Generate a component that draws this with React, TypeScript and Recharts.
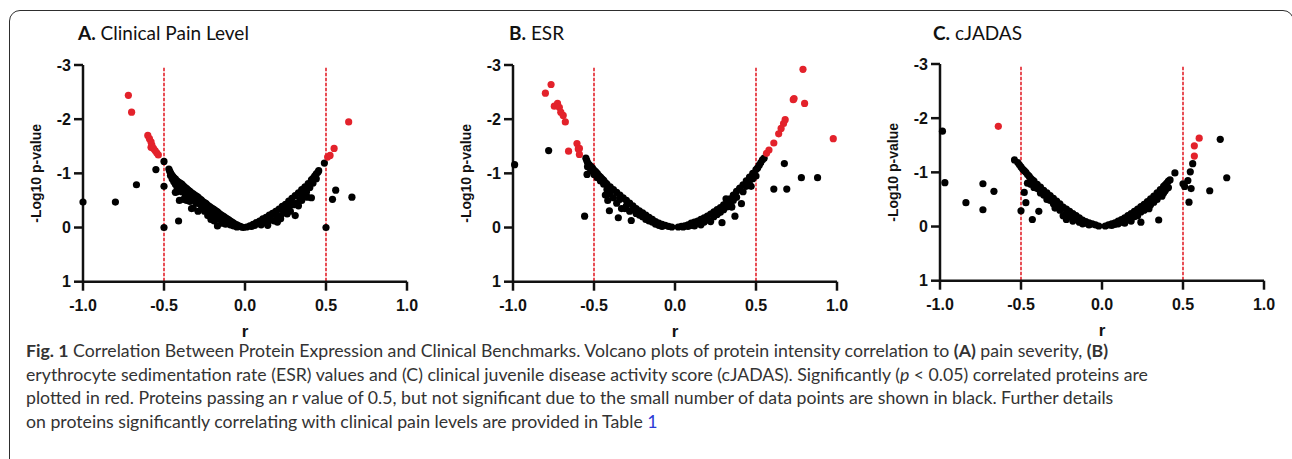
import React from 'react';
import { ScatterChart, Scatter, XAxis, YAxis, ReferenceLine, Label } from 'recharts';

type Pair = [number, number];

// ---- axis ticks ----
const xTicks = [-1, -0.5, 0, 0.5, 1];
const yTicks = [-3, -2, -1, 0, 1];
const cutoffs = [-0.5, 0.5];

// ---- A. Clinical Pain Level ----
const painRed: Pair[] = [
  [-0.72, -2.44], [-0.70, -2.13], [-0.60, -1.70], [-0.59, -1.64], [-0.58, -1.58], [-0.575, -1.52],
  [-0.58, -1.48], [-0.565, -1.46], [-0.555, -1.42], [-0.545, -1.38], [-0.535, -1.34],
  [0.51, -1.30], [0.525, -1.33], [0.55, -1.46], [0.64, -1.95],
];
const painBlack: Pair[] = [
  [-1.0, -0.47], [-0.80, -0.47], [-0.67, -0.79], [-0.55, -1.07], [-0.50, -1.22], [-0.50, -0.76], [-0.50, 0],
  [-0.41, -0.12], [-0.42, -0.66], [-0.405, -0.50], [-0.33, -0.35],
  [0.49, -1.19], [0.50, 0], [0.54, -0.52], [0.56, -0.69], [0.66, -0.56], [0.31, -0.22], [0.385, -0.56], [0.41, -0.55], [0.21, -0.17],
  // band, left upper edge
  [-0.47, -1.08], [-0.465, -1.04], [-0.46, -1.01], [-0.455, -0.98], [-0.45, -0.96], [-0.445, -0.94], [-0.44, -0.92],
  [-0.43, -0.90], [-0.42, -0.86], [-0.41, -0.84], [-0.40, -0.82], [-0.39, -0.80], [-0.38, -0.77], [-0.37, -0.74],
  [-0.36, -0.72], [-0.35, -0.69], [-0.34, -0.67], [-0.33, -0.64], [-0.32, -0.62], [-0.31, -0.60], [-0.30, -0.58],
  [-0.29, -0.56], [-0.28, -0.53], [-0.27, -0.51], [-0.26, -0.48], [-0.25, -0.46], [-0.24, -0.44], [-0.23, -0.41],
  [-0.22, -0.39], [-0.21, -0.37], [-0.20, -0.35], [-0.19, -0.33], [-0.18, -0.31], [-0.17, -0.29], [-0.16, -0.26],
  [-0.15, -0.24], [-0.14, -0.22], [-0.13, -0.20], [-0.12, -0.18], [-0.11, -0.16], [-0.10, -0.14], [-0.09, -0.12],
  [-0.08, -0.10], [-0.07, -0.08], [-0.06, -0.06], [-0.05, -0.05], [-0.04, -0.03], [-0.03, -0.02], [-0.02, -0.01], [-0.01, 0],
  // band, left lower scatter
  [-0.46, -0.96], [-0.45, -0.90], [-0.44, -0.85], [-0.43, -0.80], [-0.42, -0.75], [-0.43, -0.65], [-0.41, -0.70],
  [-0.39, -0.66], [-0.38, -0.52], [-0.37, -0.62], [-0.36, -0.50], [-0.35, -0.58], [-0.34, -0.48], [-0.33, -0.55],
  [-0.32, -0.36], [-0.31, -0.50], [-0.30, -0.45], [-0.29, -0.30], [-0.28, -0.44], [-0.27, -0.40], [-0.26, -0.36],
  [-0.25, -0.30], [-0.24, -0.34], [-0.23, -0.22], [-0.22, -0.30], [-0.21, -0.15], [-0.20, -0.25], [-0.19, -0.12],
  [-0.18, -0.22], [-0.17, -0.03], [-0.16, -0.15], [-0.15, -0.18], [-0.14, -0.08], [-0.13, -0.12], [-0.12, -0.06],
  [-0.10, -0.08], [-0.09, -0.05], [-0.07, -0.03], [-0.05, -0.01],
  // band, right upper edge
  [0.01, -0.01], [0.03, -0.03], [0.05, -0.06], [0.07, -0.09], [0.09, -0.12], [0.11, -0.16], [0.13, -0.19],
  [0.15, -0.23], [0.17, -0.26], [0.19, -0.30], [0.21, -0.34], [0.23, -0.39], [0.25, -0.43], [0.27, -0.49],
  [0.29, -0.54], [0.31, -0.59], [0.33, -0.64], [0.35, -0.70], [0.37, -0.75], [0.39, -0.81], [0.41, -0.88],
  [0.42, -0.91], [0.43, -0.95], [0.44, -0.99], [0.45, -1.02], [0.455, -1.05],
  // band, right lower scatter
  [0.04, -0.02], [0.06, -0.04], [0.08, -0.07], [0.10, -0.05], [0.12, -0.10], [0.14, -0.08], [0.16, -0.15],
  [0.18, -0.12], [0.20, -0.20], [0.22, -0.16], [0.24, -0.30], [0.26, -0.25], [0.27, -0.36], [0.28, -0.30],
  [0.30, -0.42], [0.32, -0.45], [0.34, -0.52], [0.36, -0.60], [0.38, -0.66], [0.40, -0.74], [0.42, -0.82],
  [0.44, -0.90], [0.25, -0.35], [0.29, -0.44], [0.33, -0.40], [0.35, -0.50], [0.14, -0.04], [0.20, -0.10], [0.22, -0.22],
];

// ---- B. ESR ----
const esrRed: Pair[] = [
  [-0.80, -2.48], [-0.765, -2.64], [-0.745, -2.24], [-0.725, -2.29], [-0.714, -2.22], [-0.705, -2.13],
  [-0.69, -2.07], [-0.677, -1.95], [-0.657, -1.41], [-0.605, -1.55], [-0.59, -1.46], [-0.597, -1.45], [-0.59, -1.35],
  [0.79, -2.92], [0.73, -2.36], [0.735, -2.38], [0.80, -2.29], [0.68, -1.99], [0.67, -1.92], [0.655, -1.83],
  [0.64, -1.73], [0.61, -1.56], [0.58, -1.43], [0.565, -1.37], [0.977, -1.64],
];
const esrBlack: Pair[] = [
  [-0.99, -1.16], [-0.78, -1.42], [-0.543, -0.98], [-0.558, -0.21],
  [0.675, -1.18], [0.78, -0.92], [0.88, -0.92], [0.61, -0.71], [0.69, -0.71],
  [0.41, -0.44], [0.37, -0.21], [0.29, -0.09], [0.35, -0.38],
  // left upper edge
  [-0.55, -1.28], [-0.545, -1.24], [-0.54, -1.20], [-0.53, -1.16], [-0.52, -1.13], [-0.51, -1.10], [-0.50, -1.06],
  [-0.49, -1.03], [-0.48, -1.00], [-0.47, -0.96], [-0.46, -0.93], [-0.45, -0.90], [-0.44, -0.87], [-0.43, -0.83],
  [-0.42, -0.80], [-0.40, -0.75], [-0.38, -0.70], [-0.36, -0.65], [-0.34, -0.60], [-0.32, -0.55], [-0.30, -0.50],
  [-0.28, -0.45], [-0.26, -0.40], [-0.24, -0.35], [-0.22, -0.31], [-0.20, -0.27], [-0.18, -0.23], [-0.16, -0.19],
  [-0.14, -0.15], [-0.12, -0.11], [-0.10, -0.08], [-0.08, -0.06], [-0.06, -0.04], [-0.04, -0.02], [-0.02, -0.01],
  // left lower scatter
  [-0.54, -1.12], [-0.52, -1.05], [-0.50, -0.98], [-0.48, -0.92], [-0.46, -0.86], [-0.44, -0.80], [-0.43, -0.60],
  [-0.42, -0.70], [-0.415, -0.50], [-0.40, -0.62], [-0.405, -0.31], [-0.38, -0.55], [-0.36, -0.45], [-0.35, -0.18],
  [-0.34, -0.52], [-0.33, -0.35], [-0.31, -0.35], [-0.30, -0.40], [-0.28, -0.30], [-0.27, -0.13], [-0.26, -0.33],
  [-0.24, -0.26], [-0.22, -0.23], [-0.20, -0.20], [-0.18, -0.15], [-0.16, -0.12], [-0.14, -0.10], [-0.12, -0.06],
  [-0.10, -0.04], [-0.08, -0.02],
  // right upper edge
  [0.02, -0.01], [0.04, -0.02], [0.06, -0.03], [0.08, -0.05], [0.10, -0.08], [0.12, -0.10], [0.14, -0.12],
  [0.16, -0.15], [0.18, -0.18], [0.20, -0.21], [0.22, -0.25], [0.24, -0.29], [0.26, -0.33], [0.28, -0.37],
  [0.30, -0.42], [0.32, -0.47], [0.34, -0.53], [0.36, -0.60], [0.38, -0.67], [0.40, -0.73], [0.42, -0.79],
  [0.44, -0.86], [0.46, -0.93], [0.48, -1.00], [0.50, -1.07], [0.51, -1.10], [0.52, -1.15], [0.53, -1.20],
  [0.54, -1.25], [0.55, -1.28],
  // right lower scatter
  [0.05, -0.01], [0.08, -0.02], [0.10, -0.04], [0.12, -0.03], [0.14, -0.08], [0.16, -0.05], [0.18, -0.10],
  [0.20, -0.14], [0.22, -0.11], [0.24, -0.20], [0.26, -0.24], [0.28, -0.28], [0.30, -0.33], [0.315, -0.53],
  [0.32, -0.38], [0.34, -0.44], [0.35, -0.38], [0.36, -0.50], [0.38, -0.56], [0.40, -0.72], [0.42, -0.66],
  [0.44, -0.76], [0.46, -0.80], [0.47, -0.76], [0.48, -0.90], [0.50, -0.95],
];

// ---- C. cJADAS ----
const jadasRed: Pair[] = [
  [-0.64, -1.85], [0.57, -1.49], [0.57, -1.30], [0.60, -1.63],
];
const jadasBlack: Pair[] = [
  [-0.985, -1.76], [-0.97, -0.81], [-0.84, -0.44], [-0.735, -0.79], [-0.735, -0.31], [-0.667, -0.65],
  [-0.54, -1.23], [-0.50, -0.29], [-0.48, -0.63], [-0.47, -0.44], [-0.43, -0.13], [-0.39, -0.28],
  [0.73, -1.61], [0.77, -0.90], [0.665, -0.66], [0.45, -0.99], [0.50, -0.79], [0.51, -0.74], [0.53, -0.85],
  [0.545, -1.01], [0.56, -1.16], [0.55, -0.70], [0.537, -0.45], [0.35, -0.12], [0.24, -0.08],
  // left upper edge
  [-0.52, -1.18], [-0.51, -1.14], [-0.50, -1.10], [-0.49, -1.06], [-0.48, -1.03], [-0.47, -1.00], [-0.46, -0.96],
  [-0.45, -0.93], [-0.44, -0.89], [-0.43, -0.86], [-0.42, -0.84], [-0.40, -0.78], [-0.38, -0.73], [-0.36, -0.67],
  [-0.34, -0.62], [-0.32, -0.57], [-0.30, -0.52], [-0.28, -0.47], [-0.26, -0.42], [-0.24, -0.36], [-0.22, -0.32],
  [-0.20, -0.28], [-0.18, -0.24], [-0.16, -0.20], [-0.14, -0.16], [-0.12, -0.12], [-0.10, -0.09], [-0.08, -0.07],
  [-0.06, -0.05], [-0.04, -0.03], [-0.02, -0.01],
  // left lower scatter
  [-0.46, -0.80], [-0.44, -0.78], [-0.42, -0.72], [-0.40, -0.70], [-0.38, -0.62], [-0.36, -0.58], [-0.35, -0.60],
  [-0.34, -0.50], [-0.32, -0.48], [-0.30, -0.42], [-0.29, -0.34], [-0.28, -0.38], [-0.26, -0.30], [-0.24, -0.20],
  [-0.22, -0.13], [-0.22, -0.25], [-0.20, -0.18], [-0.18, -0.10], [-0.16, -0.14], [-0.14, -0.08], [-0.12, -0.05],
  [-0.10, -0.06], [-0.08, -0.03],
  // right upper edge
  [0.02, -0.01], [0.04, -0.03], [0.06, -0.05], [0.08, -0.07], [0.10, -0.10], [0.12, -0.13], [0.14, -0.16],
  [0.16, -0.20], [0.18, -0.24], [0.20, -0.28], [0.22, -0.32], [0.24, -0.37], [0.26, -0.41], [0.28, -0.46],
  [0.30, -0.51], [0.32, -0.56], [0.34, -0.62], [0.36, -0.68], [0.38, -0.74], [0.39, -0.77], [0.40, -0.80],
  [0.41, -0.84], [0.42, -0.86],
  // right lower scatter
  [0.06, -0.02], [0.08, -0.04], [0.10, -0.05], [0.12, -0.08], [0.14, -0.06], [0.16, -0.12], [0.18, -0.10],
  [0.20, -0.18], [0.20, -0.23], [0.22, -0.20], [0.24, -0.27], [0.26, -0.30], [0.28, -0.35], [0.29, -0.33],
  [0.30, -0.40], [0.32, -0.45], [0.34, -0.50], [0.36, -0.59], [0.37, -0.56], [0.38, -0.62], [0.39, -0.66],
  [0.40, -0.70], [0.41, -0.72],
];

const toPts = (arr: Pair[]) => arr.map(([r, v]) => ({ r, v }));

const RED = '#e3222b';
const INK = '#111';

const makeDot = (color: string) => (props: any) => (
  <circle cx={props.cx} cy={props.cy} r={3.6} fill={color} />
);

const tickFont = { fontFamily: 'Liberation Sans, Arial, sans-serif', fontWeight: 700, fontSize: 16, fill: INK };

function Panel({ left, top, black, red }: { left: number; top: number; black: Pair[]; red: Pair[] }) {
  return (
    <div style={{ position: 'absolute', left, top }}>
      <ScatterChart width={430} height={345} margin={{ top: 65, right: 23, bottom: 8, left: 0 }}>
        <XAxis
          type="number"
          dataKey="r"
          domain={[-1, 1]}
          ticks={xTicks}
          tickFormatter={(v: number) => v.toFixed(1)}
          height={55.3}
          axisLine={{ stroke: INK, strokeWidth: 2.5 }}
          tickLine={{ stroke: INK, strokeWidth: 2.5 }}
          tickSize={9}
          tickMargin={9}
          tick={tickFont}
          interval={0}
        >
          <Label value="r" position="insideBottom" offset={0}
            style={{ fontFamily: 'Liberation Sans, Arial, sans-serif', fontWeight: 700, fontSize: 17, fill: INK }} />
        </XAxis>
        <YAxis
          type="number"
          dataKey="v"
          domain={[-3, 1]}
          ticks={yTicks}
          reversed
          width={83}
          axisLine={{ stroke: INK, strokeWidth: 2.5 }}
          tickLine={{ stroke: INK, strokeWidth: 2.5 }}
          tickSize={9}
          tickMargin={3}
          tick={tickFont}
          interval={0}
        >
          <Label value="-Log10 p-value" angle={-90} position="insideLeft" offset={36}
            style={{ textAnchor: 'middle', fontFamily: 'Liberation Sans, Arial, sans-serif', fontWeight: 700, fontSize: 14, fill: INK }} />
        </YAxis>
        {cutoffs.map((c) => (
          <ReferenceLine key={c} segment={[{ x: c, y: -2.95 }, { x: c, y: 1 }]}
            stroke={RED} strokeWidth={1.6} strokeDasharray="3.5 1.5" />
        ))}
        <Scatter data={toPts(black)} fill="#000" shape={makeDot('#000')} isAnimationActive={false} />
        <Scatter data={toPts(red)} fill={RED} shape={makeDot(RED)} isAnimationActive={false} />
      </ScatterChart>
    </div>
  );
}

const titleStyle: React.CSSProperties = {
  position: 'absolute', fontFamily: 'Lato, sans-serif', fontSize: 19, lineHeight: '20px',
  color: '#111', whiteSpace: 'nowrap',
};

export default function App() {
  return (
    <div style={{ position: 'absolute', left: 0, top: 0, width: 1292, height: 459, overflow: 'hidden', background: '#fff' }}>
      <div style={{
        position: 'absolute', left: 9, top: 10, width: 1285, height: 460, boxSizing: 'border-box',
        border: '1.5px solid #2e2e2e', borderRadius: 11,
      }} />
      <div style={{ ...titleStyle, left: 78, top: 23 }}><b>A.</b> Clinical Pain Level</div>
      <div style={{ ...titleStyle, left: 509, top: 23 }}><b>B.</b> ESR</div>
      <div style={{ ...titleStyle, left: 933, top: 23 }}><b>C.</b> cJADAS</div>

      <Panel left={0} top={0} black={painBlack} red={painRed} />
      <Panel left={430} top={0} black={esrBlack} red={esrRed} />
      <Panel left={857} top={-1} black={jadasBlack} red={jadasRed} />

      <div style={{
        position: 'absolute', left: 26, top: 339, fontFamily: 'Lato, sans-serif', fontSize: 17.7,
        lineHeight: '23.5px', color: '#333', whiteSpace: 'nowrap',
      }}>
        <div><b>Fig. 1</b> Correlation Between Protein Expression and Clinical Benchmarks. Volcano plots of protein intensity correlation to <b>(A)</b> pain severity, <b>(B)</b></div>
        <div>erythrocyte sedimentation rate (ESR) values and (C) clinical juvenile disease activity score (cJADAS). Significantly (<i>p</i> &lt; 0.05) correlated proteins are</div>
        <div>plotted in red. Proteins passing an r value of 0.5, but not significant due to the small number of data points are shown in black. Further details</div>
        <div>on proteins significantly correlating with clinical pain levels are provided in Table <span style={{ color: '#2b3bd6' }}>1</span></div>
      </div>
    </div>
  );
}
